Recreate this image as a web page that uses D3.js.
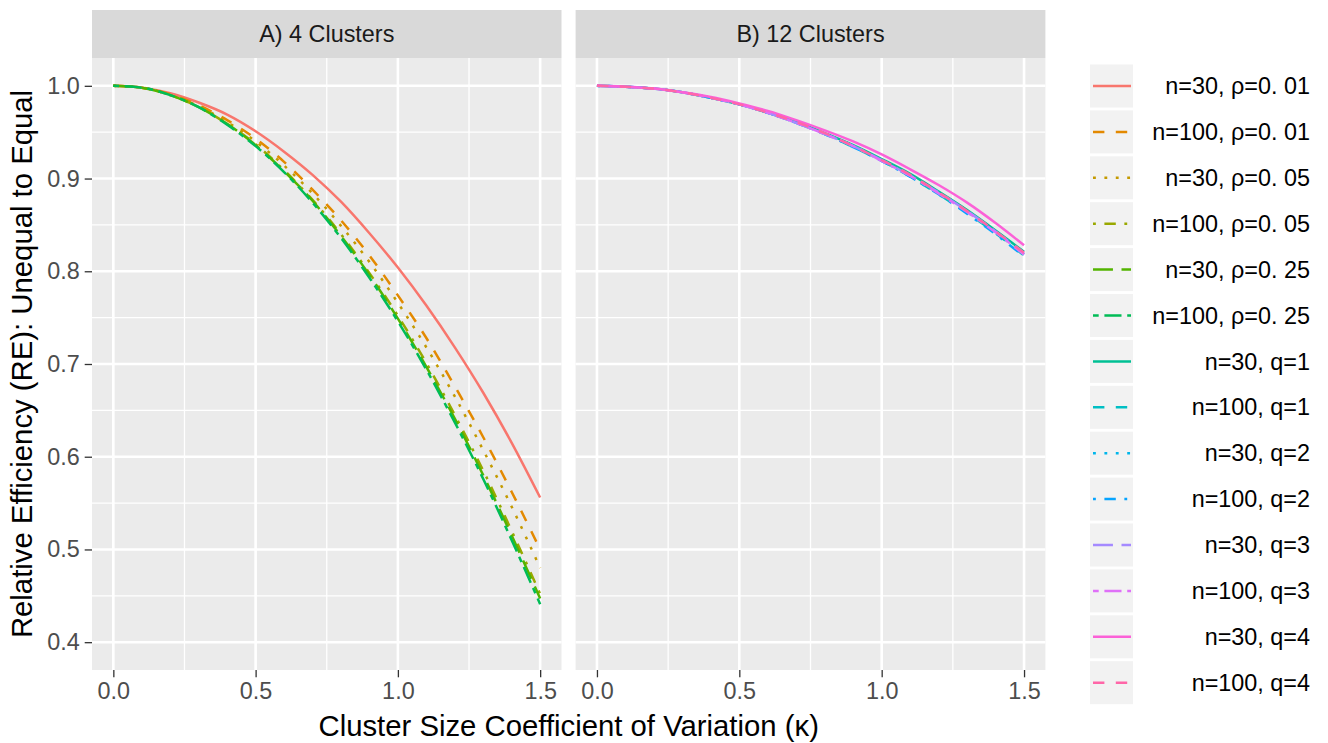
<!DOCTYPE html>
<html>
<head>
<meta charset="utf-8">
<script src="https://cdn.jsdelivr.net/npm/d3@7"></script>
<style>
  body { margin: 0; background: #fff; }
  text { font-family: "Liberation Sans", Arial, sans-serif; }
</style>
</head>
<body>
<div id="chart"></div>
<script>
// cluster size CV values on the x axis
const kappa = [0, 0.1, 0.2, 0.3, 0.4, 0.5, 0.6, 0.7, 0.8, 0.9, 1.0, 1.1, 1.2, 1.3, 1.4, 1.5];

const panelTitles = ["A) 4 Clusters", "B) 12 Clusters"];
const xTicks = [0, 0.5, 1.0, 1.5];
const yTicks = [0.4, 0.5, 0.6, 0.7, 0.8, 0.9, 1.0];

const seriesLabels = [
  "n=30, ρ=0. 01", "n=100, ρ=0. 01", "n=30, ρ=0. 05", "n=100, ρ=0. 05",
  "n=30, ρ=0. 25", "n=100, ρ=0. 25", "n=30, q=1", "n=100, q=1",
  "n=30, q=2", "n=100, q=2", "n=30, q=3", "n=100, q=3",
  "n=30, q=4", "n=100, q=4"
];
// which facet each series is drawn in
const seriesPanel = [0, 0, 0, 0, 0, 0, 1, 1, 1, 1, 1, 1, 1, 1];

// panel A: 4 clusters, ICC scenarios
const re_n30_rho01  = [1, 0.998, 0.992, 0.982, 0.969, 0.951, 0.929, 0.904, 0.875, 0.841, 0.804, 0.763, 0.718, 0.669, 0.615, 0.556];
const re_n100_rho01 = [1, 0.998, 0.991, 0.979, 0.963, 0.943, 0.918, 0.888, 0.855, 0.817, 0.774, 0.728, 0.676, 0.621, 0.562, 0.500];
const re_n30_rho05  = [1, 0.998, 0.990, 0.978, 0.961, 0.940, 0.914, 0.884, 0.849, 0.810, 0.766, 0.718, 0.665, 0.607, 0.546, 0.480];
const re_n100_rho05 = [1, 0.998, 0.990, 0.977, 0.959, 0.937, 0.909, 0.877, 0.840, 0.798, 0.752, 0.701, 0.645, 0.585, 0.520, 0.452];
const re_n30_rho25  = [1, 0.998, 0.990, 0.977, 0.959, 0.936, 0.908, 0.876, 0.838, 0.796, 0.749, 0.697, 0.641, 0.580, 0.515, 0.447];
const re_n100_rho25 = [1, 0.998, 0.990, 0.977, 0.958, 0.935, 0.907, 0.874, 0.836, 0.793, 0.746, 0.694, 0.637, 0.576, 0.510, 0.441];

// panel B: 12 clusters, q scenarios
const re_n30_q1  = [1, 0.999, 0.997, 0.993, 0.987, 0.980, 0.971, 0.961, 0.949, 0.936, 0.921, 0.905, 0.886, 0.866, 0.844, 0.821];
const re_n100_q1 = [1, 0.999, 0.997, 0.993, 0.987, 0.980, 0.971, 0.960, 0.948, 0.934, 0.919, 0.902, 0.883, 0.863, 0.841, 0.817];
const re_n30_q2  = [1, 0.999, 0.997, 0.993, 0.987, 0.980, 0.971, 0.960, 0.948, 0.935, 0.919, 0.903, 0.884, 0.864, 0.842, 0.818];
const re_n100_q2 = [1, 0.999, 0.997, 0.993, 0.987, 0.980, 0.971, 0.960, 0.948, 0.934, 0.919, 0.902, 0.883, 0.862, 0.840, 0.816];
const re_n30_q3  = [1, 0.999, 0.997, 0.993, 0.987, 0.980, 0.971, 0.960, 0.948, 0.935, 0.920, 0.903, 0.885, 0.865, 0.843, 0.819];
const re_n100_q3 = [1, 0.999, 0.997, 0.993, 0.987, 0.980, 0.971, 0.960, 0.948, 0.935, 0.919, 0.903, 0.884, 0.864, 0.842, 0.818];
const re_n30_q4  = [1, 0.999, 0.997, 0.993, 0.988, 0.981, 0.973, 0.963, 0.952, 0.940, 0.926, 0.910, 0.893, 0.874, 0.852, 0.828];
const re_n100_q4 = [1, 0.999, 0.997, 0.993, 0.987, 0.980, 0.971, 0.961, 0.949, 0.935, 0.920, 0.904, 0.885, 0.865, 0.843, 0.820];

const seriesValues = [
  re_n30_rho01, re_n100_rho01, re_n30_rho05, re_n100_rho05, re_n30_rho25, re_n100_rho25,
  re_n30_q1, re_n100_q1, re_n30_q2, re_n100_q2, re_n30_q3, re_n100_q3, re_n30_q4, re_n100_q4
];

// ---- styling ----
const lineTypes = ["solid", "dashed", "dotted", "dotdash", "longdash", "twodash"];
const dashDigits = {solid: null, dashed: "44", dotted: "13", dotdash: "1343", longdash: "73", twodash: "2262"};
const dashUnit = 2.85;
const lineWidth = 2.5;
const tickFont = 23.4, titleFont = 29.3;

// R's hcl() (polar LUV) so the hues match ggplot's default palette
function hclR(h, c, l) {
  const Xn = 95.047, Yn = 100, Zn = 108.883;
  const un = 4 * Xn / (Xn + 15 * Yn + 3 * Zn), vn = 9 * Yn / (Xn + 15 * Yn + 3 * Zn);
  const hr = h * Math.PI / 180;
  const U = c * Math.cos(hr), V = c * Math.sin(hr);
  const Y = Yn * Math.pow((l + 16) / 116, 3);
  const u = U / (13 * l) + un, v = V / (13 * l) + vn;
  const X = 9 * Y * u / (4 * v);
  const Z = Y * (12 - 3 * u - 20 * v) / (4 * v);
  const x = X / 100, y = Y / 100, z = Z / 100;
  const lin = [
    3.240479 * x - 1.537150 * y - 0.498535 * z,
    -0.969256 * x + 1.875992 * y + 0.041556 * z,
    0.055648 * x - 0.204043 * y + 1.057311 * z
  ];
  const g = lin.map(t => {
    t = t <= 0.0031308 ? 12.92 * t : 1.055 * Math.pow(t, 1 / 2.4) - 0.055;
    return Math.round(Math.max(0, Math.min(1, t)) * 255);
  });
  return d3.rgb(g[0], g[1], g[2]).formatHex();
}
const nSeries = seriesLabels.length;
const colors = d3.range(nSeries).map(i => hclR(15 + i * 360 / nSeries, 100, 65));

function dashArray(i) {
  const d = dashDigits[lineTypes[i % lineTypes.length]];
  if (!d) return null;
  return d.split("").map(c => parseInt(c, 16) * dashUnit).join(",");
}

// ---- layout ----
const W = 1328, H = 743;
const panels = [{left: 92, right: 561.5}, {left: 575.6, right: 1045.4}];
const stripTop = 10, panelTop = 58, panelBottom = 670;

const svg = d3.select("#chart").append("svg")
  .attr("width", W).attr("height", H);

const y = d3.scaleLinear().domain([0.37, 1.03]).range([panelBottom, panelTop]);

panels.forEach((p, pi) => {
  const x = d3.scaleLinear().domain([-0.075, 1.575]).range([p.left, p.right]);
  const g = svg.append("g");

  // strip
  g.append("rect")
    .attr("x", p.left).attr("y", stripTop)
    .attr("width", p.right - p.left).attr("height", panelTop - stripTop)
    .attr("fill", "#D9D9D9");
  g.append("text")
    .attr("x", (p.left + p.right) / 2).attr("y", (stripTop + panelTop) / 2)
    .attr("dy", "0.35em")
    .attr("text-anchor", "middle")
    .attr("font-size", tickFont)
    .attr("fill", "#1A1A1A")
    .text(panelTitles[pi]);

  // panel background
  g.append("rect")
    .attr("x", p.left).attr("y", panelTop)
    .attr("width", p.right - p.left).attr("height", panelBottom - panelTop)
    .attr("fill", "#EBEBEB");

  // grid: minor then major
  const xMinor = [0.25, 0.75, 1.25];
  const yMinor = [0.45, 0.55, 0.65, 0.75, 0.85, 0.95];
  g.selectAll(".xminor").data(xMinor).join("line")
    .attr("x1", d => x(d)).attr("x2", d => x(d))
    .attr("y1", panelTop).attr("y2", panelBottom)
    .attr("stroke", "#fff").attr("stroke-width", 1.3);
  g.selectAll(".yminor").data(yMinor).join("line")
    .attr("x1", p.left).attr("x2", p.right)
    .attr("y1", d => y(d)).attr("y2", d => y(d))
    .attr("stroke", "#fff").attr("stroke-width", 1.3);
  g.selectAll(".xmajor").data(xTicks).join("line")
    .attr("x1", d => x(d)).attr("x2", d => x(d))
    .attr("y1", panelTop).attr("y2", panelBottom)
    .attr("stroke", "#fff").attr("stroke-width", 2.6);
  g.selectAll(".ymajor").data(yTicks).join("line")
    .attr("x1", p.left).attr("x2", p.right)
    .attr("y1", d => y(d)).attr("y2", d => y(d))
    .attr("stroke", "#fff").attr("stroke-width", 2.6);

  // clip to panel
  const clipId = "clip" + pi;
  svg.append("clipPath").attr("id", clipId).append("rect")
    .attr("x", p.left).attr("y", panelTop)
    .attr("width", p.right - p.left).attr("height", panelBottom - panelTop);

  const line = d3.line()
    .x((d, i) => x(kappa[i]))
    .y(d => y(d))
    .curve(d3.curveMonotoneX);

  const idx = d3.range(nSeries).filter(i => seriesPanel[i] === pi);
  g.append("g").attr("clip-path", `url(#${clipId})`)
    .selectAll("path").data(idx).join("path")
    .attr("d", i => line(seriesValues[i]))
    .attr("fill", "none")
    .attr("stroke", i => colors[i])
    .attr("stroke-width", lineWidth)
    .attr("stroke-dasharray", i => dashArray(i));

  // x axis
  const xAxis = g.append("g")
    .attr("transform", `translate(0,${panelBottom})`)
    .call(d3.axisBottom(x).tickValues(xTicks).tickFormat(d3.format(".1f")).tickSize(7.3).tickPadding(5));
  xAxis.select(".domain").remove();
  xAxis.selectAll("line").attr("stroke", "#333333").attr("stroke-width", 1.3);
  xAxis.selectAll("text").attr("fill", "#4D4D4D").attr("font-size", tickFont)
    .style("font-family", "'Liberation Sans', Arial, sans-serif");

  if (pi === 0) {
    const yAxis = g.append("g")
      .attr("transform", `translate(${p.left},0)`)
      .call(d3.axisLeft(y).tickValues(yTicks).tickFormat(d3.format(".1f")).tickSize(7.3).tickPadding(5));
    yAxis.select(".domain").remove();
    yAxis.selectAll("line").attr("stroke", "#333333").attr("stroke-width", 1.3);
    yAxis.selectAll("text").attr("fill", "#4D4D4D").attr("font-size", tickFont)
      .style("font-family", "'Liberation Sans', Arial, sans-serif");
  }
});

// axis titles
svg.append("text")
  .attr("x", (panels[0].left + panels[1].right) / 2).attr("y", 726)
  .attr("dy", "0.35em")
  .attr("text-anchor", "middle")
  .attr("font-size", titleFont)
  .text("Cluster Size Coefficient of Variation (κ)");

svg.append("text")
  .attr("transform", `translate(22,${(panelTop + panelBottom) / 2}) rotate(-90)`)
  .attr("dy", "0.35em")
  .attr("text-anchor", "middle")
  .attr("font-size", titleFont)
  .text("Relative Efficiency (RE): Unequal to Equal");

// legend
const keyX = 1090, keyW = 43, keyH = 43, keyStep = 45.9, keyTop = 64.5;
const legend = svg.append("g");
const item = legend.selectAll("g").data(d3.range(nSeries)).join("g")
  .attr("transform", i => `translate(${keyX},${keyTop + i * keyStep})`);
item.append("rect")
  .attr("width", keyW).attr("height", keyH)
  .attr("fill", "#F2F2F2");
item.append("line")
  .attr("x1", 3).attr("x2", keyW - 2)
  .attr("y1", keyH / 2).attr("y2", keyH / 2)
  .attr("stroke", i => colors[i])
  .attr("stroke-width", lineWidth)
  .attr("stroke-dasharray", i => dashArray(i));
item.append("text")
  .attr("x", 1310 - keyX).attr("y", keyH / 2)
  .attr("dy", "0.35em")
  .attr("text-anchor", "end")
  .attr("font-size", tickFont)
  .attr("fill", "#000")
  .text(i => seriesLabels[i]);
</script>
</body>
</html>
